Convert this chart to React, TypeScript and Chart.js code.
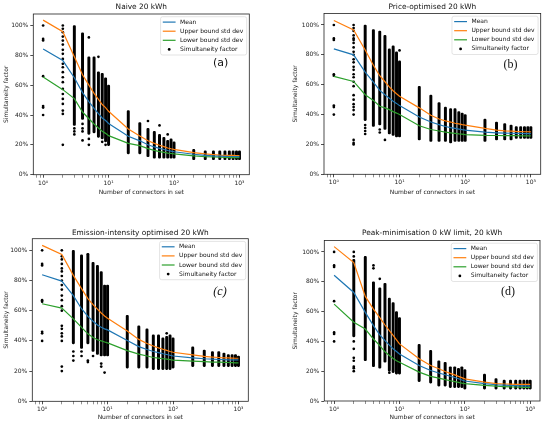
import { useEffect, useRef } from 'react'
import { Chart, registerables } from 'chart.js'

Chart.register(...registerables)

// number of connectors in set (x positions of every column / line vertex)
const connectors = [1, 2, 3, 4, 5, 6, 7, 8, 9, 10, 20, 30, 40, 50, 60, 70, 80, 90, 100, 200, 300, 400, 500, 600, 700, 800, 900, 1000]

const xTickValues = [0.8, 0.9, 1, 2, 3, 4, 5, 6, 7, 8, 9, 10, 20, 30, 40, 50, 60, 70, 80, 90, 100, 200, 300, 400, 500, 600, 700, 800, 900, 1000]
const decadeLabels: Record<number, string> = { 1: '10⁰', 10: '10¹', 100: '10²', 1000: '10³' }
const yTickValues = [0, 20, 40, 60, 80, 100]

// (a) Naive
const naiveMean = [84.2, 76.5, 65, 55, 49, 44.5, 41, 38, 36.3, 34.3, 25.8, 22.7, 20.1, 18.6, 17.6, 16.9, 16.2, 15.8, 15.4, 13.7, 13, 12.6, 12.4, 12.3, 12.2, 12.2, 12.1, 12.1]
const naiveUpper = [103.6, 95.8, 79, 67, 60, 54.5, 50.5, 47, 45, 42.5, 30.6, 26, 22.8, 21, 19.7, 18.8, 17.9, 17.4, 17, 14.8, 13.9, 13.4, 13.1, 13, 12.9, 12.9, 12.8, 12.8]
const naiveLower = [65.5, 57, 51, 42, 37.5, 34, 31.3, 29.1, 27.7, 26.2, 21, 19.5, 17.5, 16.3, 15.5, 15, 14.5, 14.2, 13.9, 12.6, 12.1, 11.9, 11.7, 11.6, 11.5, 11.5, 11.4, 11.4]
const naiveLo = [null, null, 33, 37, 27, 28, 25, 24, 22, 19.5, 14, 14, 12, 11, 11, 11, 11, 11, 11, 10, 10, 10, 10, 10, 10, 10, 10, 10]
const naiveHi = [null, null, 100, 95, 79, 79, 69, 68, 65, 60, 43, 35, 31, 29, 27, 25, 23, 24, 22, 17, 16, 16, 16, 16, 16, 16, 16, 16]
const naiveDots: [number, number[]][] = [
  [1, [100, 91, 90, 66, 46, 45, 40]],
  [2, [100, 97.8, 95.5, 92.6, 89.9, 87.2, 83.7, 81, 77.6, 74.3, 72, 68.7, 65.3, 62, 57.5, 54.1, 50.8, 47.4, 43, 40.7, 20]],
  [3, [31, 29, 27]],
  [4, [34, 31, 29, 23]],
  [5, [92, 24, 20]],
  [7, [79]],
  [8, [22]],
  [9, [20]],
  [40, [36]],
  [60, [33]],
  [80, [27]]
]

// (b) Price-optimised
const priceMean = [84, 80, 68.4, 61.8, 56.2, 53.3, 51, 49, 47.5, 46, 38.4, 35, 33.3, 32, 31.3, 30.8, 30.3, 29.9, 29.6, 28.2, 27.8, 27.6, 27.5, 27.4, 27.4, 27.3, 27.3, 27.3]
const priceUpper = [103, 96.7, 83.3, 73, 66, 62, 58.5, 56, 54, 52.3, 44.5, 39.5, 37, 35.8, 35, 34.2, 33.8, 33.3, 32.9, 30.7, 29.6, 29.1, 28.9, 28.7, 28.6, 28.5, 28.5, 28.4]
const priceLower = [65.6, 62.2, 53.3, 49.5, 45.6, 44.5, 43.3, 42, 41, 40, 32.5, 30, 29, 28.3, 27.8, 27.4, 27.1, 26.9, 26.6, 26.1, 26, 25.9, 25.9, 25.9, 25.8, 25.8, 25.8, 25.8]
const priceLo = [null, null, 36, 32, 33, 30, 27, 26, 25, 25, 23, 22, 22, 22, 21, 22, 22, 22, 22, 22, 23, 23, 23, 24, 24, 24, 24, 24]
const priceHi = [null, null, 100, 97, 96, 93, 84, 86, 82, 76, 59, 53, 48, 45, 44, 44, 42, 41, 40, 37, 35, 34, 33, 32, 32, 32, 32, 32]
const priceDots: [number, number[]][] = [
  [1, [100, 91, 90, 67, 66, 46, 45, 40]],
  [2, [100, 98, 96, 93, 91, 90, 88, 85, 82, 80, 77, 75, 72, 70, 67, 65, 62, 59, 53, 50, 47, 45, 43, 40, 23, 21, 20]],
  [3, [33, 31, 29, 27]],
  [5, [30, 28]],
  [6, [23]],
  [10, [83]]
]

// (c) Emission-intensity optimised
const emisMean = [83.8, 79.6, 70, 61.3, 56.2, 53, 50.5, 49, 48, 47.3, 40.3, 36.2, 34.3, 33, 32.2, 31.5, 31, 30.5, 30, 28.8, 28.2, 27.9, 27.7, 27.6, 27.5, 27.5, 27.4, 27.4]
const emisUpper = [103.3, 97.3, 83.4, 74.6, 68, 64, 61, 58.5, 56.5, 55, 46.5, 41, 38.3, 36.6, 35.4, 34.5, 33.7, 33, 32.5, 30.8, 29.8, 29.3, 29, 28.8, 28.7, 28.6, 28.5, 28.5]
const emisLower = [64.6, 61.7, 54.6, 49, 44.7, 42.3, 40.8, 40, 39.3, 38.7, 33.6, 31.2, 30, 29, 28.6, 28.2, 27.9, 27.6, 27.3, 26.6, 26.3, 26, 25.9, 25.8, 25.7, 25.6, 25.5, 25.4]
const emisLo = [null, null, 38, 35, 38, 33, 31, 30, 30, 30, 22, 22, 22, 21, 21, 21, 21, 21, 22, 23, 23, 23, 23, 23, 23, 23, 23, 23]
const emisHi = [null, null, 100, 97, 98, 92, 90, 86, 77, 77, 57, 50, 48, 44, 44, 42, 43, 44, 42, 36, 34, 33, 33, 32, 31, 31, 31, 30]
const emisDots: [number, number[]][] = [
  [1, [100, 91, 90, 67, 66, 46, 45, 40]],
  [2, [100, 96, 94, 91, 88, 86, 83, 80, 77, 74, 70, 67, 63, 60, 50, 48, 45, 43, 40, 23, 20]],
  [3, [33, 30, 27]],
  [4, [33, 30]],
  [5, [27, 26]],
  [6, [30]],
  [8, [25, 23]],
  [9, [19]],
  [80, [45]]
]

// (d) Peak-minimisation 0 kW limit
const peakMean = [84.4, 72.8, 59.5, 50.6, 44.3, 40.5, 37.5, 35, 33.2, 31.6, 23.8, 20.5, 18.8, 17.6, 16.6, 15.8, 14.9, 14.1, 13.4, 11.6, 10.9, 10.6, 10.4, 10.3, 10.2, 10.1, 10.1, 10]
const peakUpper = [103.6, 92.9, 70.2, 61.7, 56, 51, 47.2, 44, 41, 38.3, 28.3, 23.8, 21.6, 19.8, 18.5, 17.5, 16.5, 15.7, 14.9, 12.7, 11.6, 11.4, 11.3, 11.2, 11.2, 11.1, 11.1, 11.1]
const peakLower = [65, 52.8, 48.3, 41.6, 37.2, 33, 30.5, 28.5, 27, 26, 19.4, 16.5, 15.4, 14.3, 13.6, 13, 12.5, 12, 11.6, 10.5, 10, 9.7, 9.5, 9.4, 9.3, 9.2, 9.1, 9.1]
const peakLo = [null, 43, 27, 23, 22, 26, 20, 19, 18, 18, 13, 12, 10, 10, 9, 9, 9, 9, 8, 8, 8, 8, 8, 8, 8, 8, 8, 8]
const peakHi = [null, 95, 97, 80, 76, 79, 69, 66, 60, 56, 38, 34, 27, 26, 23, 23, 22, 23, 21, 18, 15, 14, 14, 14, 14, 14, 14, 14]
const peakDots: [number, number[]][] = [
  [1, [100, 91, 90, 67, 46, 45, 40]],
  [2, [100, 97, 40, 35, 29, 27, 23, 22, 20]],
  [4, [91, 89]],
  [5, [82]],
  [7, [19]]
]

const FONT = '"DejaVu Sans", sans-serif'
const BLUE = '#1f77b4'
const ORANGE = '#ff7f0e'
const GREEN = '#2ca02c'

interface Box {
  left: number
  right: number
  top: number
  bottom: number
  titleY: number
  yTitleX: number
  xTitleY: number
}

interface PanelProps {
  title: string
  tag: string
  tagFont: string
  tagRight: number
  tagDown: number
  mean: number[]
  upper: number[]
  lower: number[]
  lo: (number | null)[]
  hi: (number | null)[]
  dots: [number, number[]][]
  box: Box
}

const W = 275
const H = 212

function Panel(props: PanelProps) {
  const canvasRef = useRef<HTMLCanvasElement>(null)

  useEffect(() => {
    if (!canvasRef.current) return
    const { title, tag, tagFont, tagRight, tagDown, mean, upper, lower, lo, hi, dots, box } = props

    const line = (label: string, values: number[], color: string) => ({
      type: 'line' as const,
      label,
      data: connectors.map((x, i) => ({ x, y: values[i] })),
      borderColor: color,
      backgroundColor: color,
      borderWidth: 1.2,
      pointRadius: 0,
      fill: false,
      tension: 0,
      order: 0
    })

    const decor = {
      id: 'decor',
      afterDatasetsDraw(chart: Chart) {
        const { ctx, chartArea: a } = chart
        ctx.save()
        // axes frame
        ctx.strokeStyle = '#222'
        ctx.lineWidth = 0.8
        ctx.strokeRect(a.left, a.top, a.right - a.left, a.bottom - a.top)

        // title
        ctx.fillStyle = '#111'
        ctx.font = `7.4px ${FONT}`
        ctx.textAlign = 'center'
        ctx.textBaseline = 'middle'
        ctx.fillText(title, (a.left + a.right) / 2, box.titleY)

        // legend
        const items = [
          { label: 'Mean', color: BLUE, dot: false },
          { label: 'Upper bound std dev', color: ORANGE, dot: false },
          { label: 'Lower bound std dev', color: GREEN, dot: false },
          { label: 'Simultaneity factor', color: '#000', dot: true }
        ]
        ctx.font = `6px ${FONT}`
        const tw = Math.max(...items.map(it => ctx.measureText(it.label).width))
        const w = 19.5 + tw + 3.5
        const h = 38.3
        const x0 = a.right - 2.6 - w
        const y0 = a.top + 2.7
        ctx.beginPath()
        ctx.roundRect(x0, y0, w, h, 2)
        ctx.fillStyle = 'rgba(255,255,255,0.8)'
        ctx.fill()
        ctx.strokeStyle = '#d2d2d2'
        ctx.lineWidth = 0.6
        ctx.stroke()
        items.forEach((it, i) => {
          const cy = y0 + 5.4 + i * 9.1
          if (it.dot) {
            ctx.beginPath()
            ctx.arc(x0 + 8.6, cy, 1.4, 0, Math.PI * 2)
            ctx.fillStyle = it.color
            ctx.fill()
          } else {
            ctx.beginPath()
            ctx.moveTo(x0 + 2.2, cy)
            ctx.lineTo(x0 + 15, cy)
            ctx.strokeStyle = it.color
            ctx.lineWidth = 1.2
            ctx.stroke()
          }
          ctx.fillStyle = '#111'
          ctx.textAlign = 'left'
          ctx.fillText(it.label, x0 + 19.5, cy)
        })

        // panel tag
        ctx.font = tagFont
        ctx.fillStyle = '#111'
        ctx.textAlign = 'center'
        ctx.fillText(tag, a.right - tagRight, a.top + tagDown)
        ctx.restore()
      }
    }

    const chart = new Chart(canvasRef.current, {
      type: 'scatter',
      data: {
        datasets: [
          line('Mean', mean, BLUE),
          line('Upper bound std dev', upper, ORANGE),
          line('Lower bound std dev', lower, GREEN),
          {
            type: 'scatter',
            label: 'Simultaneity factor',
            data: dots.flatMap(([x, ys]) => ys.map(y => ({ x, y }))),
            backgroundColor: '#000',
            borderWidth: 0,
            pointRadius: 1.35,
            order: 1
          },
          {
            type: 'bar',
            label: 'range',
            data: connectors
              .map((x, i) => ({ x, lo: lo[i], hi: hi[i] }))
              .filter(d => d.lo !== null && d.hi !== null)
              .map(d => ({ x: d.x, y: [d.lo as number, d.hi as number] })),
            backgroundColor: '#000',
            barThickness: 2.3,
            borderRadius: 1.15,
            borderSkipped: false,
            grouped: false,
            order: 2
          }
        ] as any
      },
      options: {
        responsive: false,
        animation: false,
        events: [],
        layout: {
          padding: { left: 0, top: box.top, right: W - box.right, bottom: 0 }
        },
        plugins: {
          legend: { display: false },
          tooltip: { enabled: false },
          title: { display: false }
        },
        scales: {
          x: {
            type: 'logarithmic',
            min: Math.pow(10, -0.15),
            max: Math.pow(10, 3.15),
            bounds: 'data',
            offset: false,
            afterFit: (s: any) => { s.height = H - box.bottom },
            afterBuildTicks: (s: any) => {
              s.ticks = xTickValues.map(v => ({ value: v, major: v in decadeLabels }))
            },
            ticks: {
              autoSkip: false,
              maxRotation: 0,
              padding: 2,
              color: '#222',
              font: { family: FONT, size: 6 },
              callback: (v: any) => decadeLabels[v as number] ?? ''
            },
            grid: {
              offset: false,
              drawOnChartArea: false,
              drawTicks: true,
              tickLength: 3,
              tickColor: '#222',
              tickWidth: (c: any) => (c.tick && decadeLabels[c.tick.value] ? 0.8 : 0.5)
            },
            border: { display: false },
            title: {
              display: true,
              text: 'Number of connectors in set',
              color: '#222',
              font: { family: FONT, size: 6 },
              padding: { top: 0, bottom: H - box.xTitleY - 3.6 }
            }
          },
          y: {
            type: 'linear',
            min: 0,
            max: 107.7,
            bounds: 'data',
            afterFit: (s: any) => { s.width = box.left },
            afterBuildTicks: (s: any) => {
              s.ticks = yTickValues.map(v => ({ value: v }))
            },
            ticks: {
              padding: 2,
              color: '#222',
              font: { family: FONT, size: 6 },
              callback: (v: any) => `${v}%`
            },
            grid: {
              drawOnChartArea: false,
              drawTicks: true,
              tickLength: 3,
              tickColor: '#222',
              tickWidth: 0.8
            },
            border: { display: false },
            title: {
              display: true,
              text: 'Simultaneity factor',
              color: '#222',
              font: { family: FONT, size: 6 },
              padding: { top: box.yTitleX - 3.6, bottom: 0 }
            }
          }
        }
      } as any,
      plugins: [decor]
    })

    return () => {
      chart.destroy()
    }
  }, [props])

  return <canvas ref={canvasRef} width={W} height={H} style={{ display: 'block', width: W, height: H }} />
}

const SERIF = '"Liberation Serif", "Times New Roman", serif'

export default function App() {
  return (
    <div style={{ position: 'absolute', left: 0, top: 0, width: 550, height: 424, background: '#fff' }}>
      <div style={{ position: 'absolute', left: 0, top: 0 }}>
        <Panel
          title="Naive 20 kWh"
          tag="(a)"
          tagFont={`11px ${FONT}`}
          tagRight={28.6}
          tagDown={49.3}
          mean={naiveMean}
          upper={naiveUpper}
          lower={naiveLower}
          lo={naiveLo}
          hi={naiveHi}
          dots={naiveDots}
          box={{ left: 33.3, right: 249.3, top: 14, bottom: 174.7, titleY: 6.7, yTitleX: 6, xTitleY: 192.3 }}
        />
      </div>
      <div style={{ position: 'absolute', left: 275, top: 0 }}>
        <Panel
          title="Price-optimised 20 kWh"
          tag="(b)"
          tagFont={`12px ${SERIF}`}
          tagRight={30.3}
          tagDown={51}
          mean={priceMean}
          upper={priceUpper}
          lower={priceLower}
          lo={priceLo}
          hi={priceHi}
          dots={priceDots}
          box={{ left: 49, right: 265.7, top: 13.5, bottom: 174.3, titleY: 7.3, yTitleX: 20.7, xTitleY: 192.3 }}
        />
      </div>
      <div style={{ position: 'absolute', left: 0, top: 212 }}>
        <Panel
          title="Emission-intensity optimised 20 kWh"
          tag="(c)"
          tagFont={`italic 12px ${SERIF}`}
          tagRight={28.3}
          tagDown={53.3}
          mean={emisMean}
          upper={emisUpper}
          lower={emisLower}
          lo={emisLo}
          hi={emisHi}
          dots={emisDots}
          box={{ left: 32.3, right: 248.3, top: 26.7, bottom: 189.3, titleY: 20.7, yTitleX: 6, xTitleY: 205.3 }}
        />
      </div>
      <div style={{ position: 'absolute', left: 275, top: 212 }}>
        <Panel
          title="Peak-minimisation 0 kW limit, 20 kWh"
          tag="(d)"
          tagFont={`12px ${SERIF}`}
          tagRight={32}
          tagDown={51.5}
          mean={peakMean}
          upper={peakUpper}
          lower={peakLower}
          lo={peakLo}
          hi={peakHi}
          dots={peakDots}
          box={{ left: 49.3, right: 265, top: 28.5, bottom: 189, titleY: 21, yTitleX: 20.7, xTitleY: 205.7 }}
        />
      </div>
    </div>
  )
}
